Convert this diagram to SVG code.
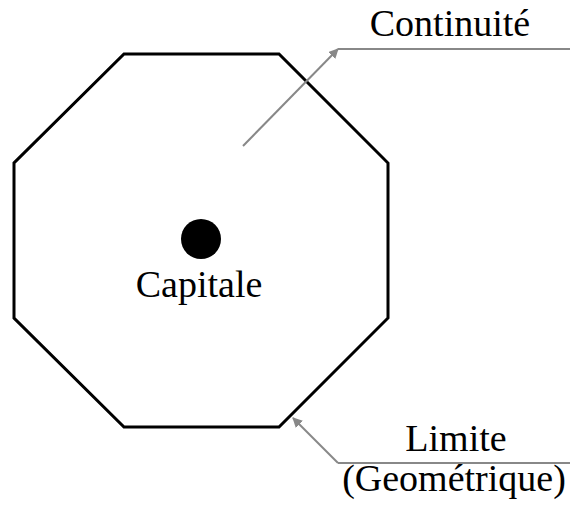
<svg xmlns="http://www.w3.org/2000/svg" width="575" height="510" viewBox="0 0 575 510">
<style>
text{font-family:"Liberation Serif","DejaVu Serif",serif;font-size:38px;fill:#000;text-anchor:middle}
.lead{stroke:#888;stroke-width:2;fill:none}
</style>
<defs>
<marker id="ah" markerWidth="10" markerHeight="10" refX="9" refY="5" orient="auto" markerUnits="userSpaceOnUse" viewBox="0 0 10 10">
<path d="M0,0 L10,5 L0,10 z" fill="#888"/>
</marker>
</defs>
<rect width="575" height="510" fill="#fff"/>
<g id="territoire">
<polygon points="124,54 279,54 388,163 388,318 279,427 124,427 14,318 14,163" fill="none" stroke="#000" stroke-width="3"/>
</g>
<g id="capitale">
<circle cx="201" cy="239" r="20" fill="#000"/>
<text x="199" y="297">Capitale</text>
</g>
<g id="continuite">
<text x="450" y="36">Continuité</text>
</g>
<g id="limite">
<text x="456" y="451">Limite</text>
<text x="454" y="491">(Geométrique)</text>
</g>
<g id="connectors">
<polyline class="lead" points="243,146 338,49" marker-end="url(#ah)"/>
<line class="lead" x1="338" y1="49" x2="570" y2="49"/>
<polyline class="lead" points="338,463 293,418" marker-end="url(#ah)"/>
<line class="lead" x1="338" y1="463" x2="570" y2="463"/>
</g>
</svg>
